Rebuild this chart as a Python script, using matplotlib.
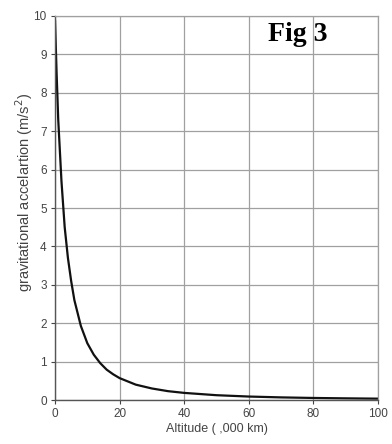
#!/usr/bin/env python3

import matplotlib
matplotlib.use("Agg")
import matplotlib.pyplot as plt

# --- Data ---
altitude = [0, 0.5, 1, 2, 3, 4, 5, 6, 8, 10, 12, 14, 16, 18, 20,
            25, 30, 35, 40, 50, 60, 70, 80, 90, 100]
accel = [9.9, 8.5, 7.3, 5.7, 4.5, 3.7, 3.1, 2.6, 1.93, 1.48, 1.18, 0.96,
         0.79, 0.67, 0.57, 0.40, 0.30, 0.23, 0.185, 0.125, 0.09, 0.068,
         0.053, 0.043, 0.035]
x_ticks = [0, 20, 40, 60, 80, 100]
y_ticks = list(range(0, 11))

TEXT = "#444444"
GRID = "#a0a0a0"

plt.rcParams["font.family"] = ["Liberation Sans", "DejaVu Sans"]

fig = plt.figure(figsize=(3.92, 4.44), dpi=100)
ax = fig.add_axes([55 / 392, 1 - 400 / 444, 323 / 392, 384 / 444])

ax.plot(altitude, accel, color="#111111", lw=1.6, solid_capstyle="butt")

ax.set_xlim(0, 100)
ax.set_ylim(0, 10)
ax.set_xticks(x_ticks)
ax.set_yticks(y_ticks)
ax.grid(True, color=GRID, lw=0.9)
ax.set_axisbelow(True)

for side in ["top", "right"]:
    ax.spines[side].set_color(GRID)
    ax.spines[side].set_linewidth(0.9)
for side in ["left", "bottom"]:
    ax.spines[side].set_color("#555555")
    ax.spines[side].set_linewidth(1.0)

ax.tick_params(labelsize=8.5, colors=TEXT, length=3, width=0.8, pad=3)

ax.set_xlabel("Altitude ( ,000 km)", fontsize=9, color=TEXT, labelpad=2)
ax.set_ylabel("gravitational accelartion (m/s$^2$)", fontsize=10.5,
              color=TEXT, labelpad=4)
ax.yaxis.set_label_coords(-0.062, 0.54)

ax.text(75, 9.52, "Fig 3", family="Liberation Serif", fontweight="bold",
        fontsize=20, ha="center", va="center", color="black")

fig.savefig("out.png", dpi=100)
